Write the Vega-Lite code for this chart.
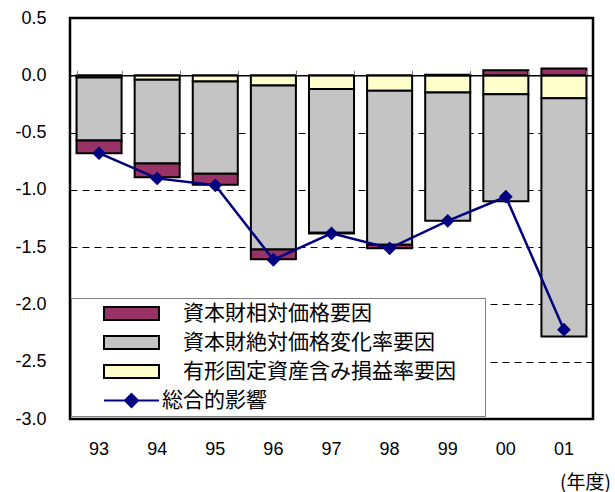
{
  "$schema": "https://vega.github.io/schema/vega-lite/v6.json",
  "width": 523,
  "height": 401,
  "autosize": "none",
  "padding": {"left": 70, "top": 18, "right": 22, "bottom": 73},
  "config": {
    "view": {"stroke": "black", "strokeWidth": 2.5},
    "font": "Liberation Sans",
    "axis": {"labelColor": "black", "titleColor": "black"}
  },
  "datasets": {
    "parts": [
      {"year": "93", "comp": "有形固定資産含み損益率要因", "k": 1, "value": -0.02},
      {"year": "93", "comp": "資本財絶対価格変化率要因", "k": 2, "value": -0.55},
      {"year": "93", "comp": "資本財相対価格要因", "k": 3, "value": -0.11},
      {"year": "94", "comp": "有形固定資産含み損益率要因", "k": 1, "value": -0.04},
      {"year": "94", "comp": "資本財絶対価格変化率要因", "k": 2, "value": -0.73},
      {"year": "94", "comp": "資本財相対価格要因", "k": 3, "value": -0.12},
      {"year": "95", "comp": "有形固定資産含み損益率要因", "k": 1, "value": -0.055},
      {"year": "95", "comp": "資本財絶対価格変化率要因", "k": 2, "value": -0.805},
      {"year": "95", "comp": "資本財相対価格要因", "k": 3, "value": -0.095},
      {"year": "96", "comp": "有形固定資産含み損益率要因", "k": 1, "value": -0.09},
      {"year": "96", "comp": "資本財絶対価格変化率要因", "k": 2, "value": -1.43},
      {"year": "96", "comp": "資本財相対価格要因", "k": 3, "value": -0.085},
      {"year": "97", "comp": "有形固定資産含み損益率要因", "k": 1, "value": -0.12},
      {"year": "97", "comp": "資本財絶対価格変化率要因", "k": 2, "value": -1.255},
      {"year": "97", "comp": "資本財相対価格要因", "k": 3, "value": -0.005},
      {"year": "98", "comp": "有形固定資産含み損益率要因", "k": 1, "value": -0.135},
      {"year": "98", "comp": "資本財絶対価格変化率要因", "k": 2, "value": -1.345},
      {"year": "98", "comp": "資本財相対価格要因", "k": 3, "value": -0.03},
      {"year": "99", "comp": "有形固定資産含み損益率要因", "k": 1, "value": -0.15},
      {"year": "99", "comp": "資本財絶対価格変化率要因", "k": 2, "value": -1.12},
      {"year": "99", "comp": "資本財相対価格要因", "k": 3, "value": 0.005},
      {"year": "00", "comp": "有形固定資産含み損益率要因", "k": 1, "value": -0.165},
      {"year": "00", "comp": "資本財絶対価格変化率要因", "k": 2, "value": -0.935},
      {"year": "00", "comp": "資本財相対価格要因", "k": 3, "value": 0.045},
      {"year": "01", "comp": "有形固定資産含み損益率要因", "k": 1, "value": -0.2},
      {"year": "01", "comp": "資本財絶対価格変化率要因", "k": 2, "value": -2.08},
      {"year": "01", "comp": "資本財相対価格要因", "k": 3, "value": 0.06}
    ],
    "total": [
      {"year": "93", "total": -0.68},
      {"year": "94", "total": -0.9},
      {"year": "95", "total": -0.96},
      {"year": "96", "total": -1.61},
      {"year": "97", "total": -1.38},
      {"year": "98", "total": -1.51},
      {"year": "99", "total": -1.27},
      {"year": "00", "total": -1.06},
      {"year": "01", "total": -2.22}
    ]
  },
  "layer": [
    {
      "data": {"name": "parts"},
      "mark": {"type": "bar", "stroke": "black", "strokeWidth": 2},
      "encoding": {
        "x": {
          "field": "year", "type": "ordinal", "sort": null,
          "scale": {"paddingInner": 0.225, "paddingOuter": 0.1125},
          "axis": {
            "orient": "bottom", "labelAngle": 0, "labelFontSize": 18, "labelPadding": 21,
            "ticks": false, "tickSize": 0, "domain": false, "grid": false,
            "title": "(年度)", "titleFont": "Noto Sans CJK JP", "titleFontSize": 19,
            "titleFontWeight": "normal", "titleX": 515, "titleY": 63,
            "titleAlign": "center", "titleBaseline": "middle"
          }
        },
        "y": {
          "field": "value", "type": "quantitative", "stack": "zero",
          "scale": {"domain": [-3, 0.5], "nice": false, "zero": false},
          "axis": {
            "values": [-3, -2.5, -2, -1.5, -1, -0.5, 0, 0.5],
            "labelExpr": "datum.value < 0 ? '-' + format(-datum.value, '.1f') : format(datum.value, '.1f')",
            "grid": true, "gridDash": [7, 5], "gridColor": "black", "gridWidth": 1,
            "ticks": false, "tickSize": 0, "domain": false,
            "labelPadding": 24, "labelFontSize": 18, "title": null
          }
        },
        "fill": {
          "field": "comp", "type": "nominal",
          "scale": {
            "domain": ["資本財相対価格要因", "資本財絶対価格変化率要因", "有形固定資産含み損益率要因", "総合的影響"],
            "range": ["#993366", "#c4c4c4", "#ffffcc", "#000080"]
          },
          "legend": {
            "orient": "none", "legendX": 1, "legendY": 280,
            "title": "■", "titleOrient": "right", "titleColor": "white", "titleFontSize": 20,
            "titleFont": "Noto Sans CJK JP", "titlePadding": 4,
            "padding": 5, "rowPadding": 7, "strokeColor": "#808080", "fillColor": "white",
            "symbolSize": 169, "symbolStrokeWidth": 2, "symbolStrokeColor": "black",
            "symbolOffset": 45, "labelOffset": 41,
            "labelFont": "Noto Sans CJK JP", "labelFontSize": 21, "labelColor": "black", "labelLimit": 500,
            "encode": {
              "symbols": {
                "update": {
                  "shape": {"signal": "datum.value === '総合的影響' ? 'M-4.23,0H4.23M0,-1L1,0L0,1L-1,0Z' : 'M-4.23,-1H4.23V1H-4.23Z'"},
                  "stroke": {"signal": "datum.value === '総合的影響' ? '#000080' : 'black'"}
                }
              },
              "labels": {
                "update": {
                  "dx": {"signal": "datum.value === '総合的影響' ? -21 : 0"}
                }
              }
            }
          }
        },
        "order": {"field": "k", "type": "quantitative", "sort": "ascending"}
      }
    },
    {
      "data": {"name": "total"},
      "mark": {
        "type": "line", "color": "#000080", "strokeWidth": 2.5,
        "point": {"shape": "diamond", "size": 190, "filled": true, "color": "#000080"}
      },
      "encoding": {
        "x": {
          "field": "year", "type": "ordinal", "sort": null,
          "axis": {
            "orient": "top", "offset": -57.3, "labels": false, "ticks": true, "tickSize": 5,
            "tickColor": "#808080", "tickWidth": 1, "tickBand": "extent",
            "domain": true, "domainColor": "black", "domainWidth": 1.5,
            "grid": false, "title": null, "zindex": 1
          }
        },
        "y": {
          "field": "total", "type": "quantitative",
          "axis": {
            "values": [-3, -2.5, -2, -1.5, -1, -0.5, 0, 0.5],
            "labelExpr": "datum.value < 0 ? '-' + format(-datum.value, '.1f') : format(datum.value, '.1f')",
            "grid": true, "gridDash": [7, 5], "gridColor": "black", "gridWidth": 1,
            "ticks": false, "tickSize": 0, "domain": false,
            "labelPadding": 24, "labelFontSize": 18, "title": null
          }
        }
      }
    }
  ],
  "resolve": {"axis": {"x": "independent"}}
}
